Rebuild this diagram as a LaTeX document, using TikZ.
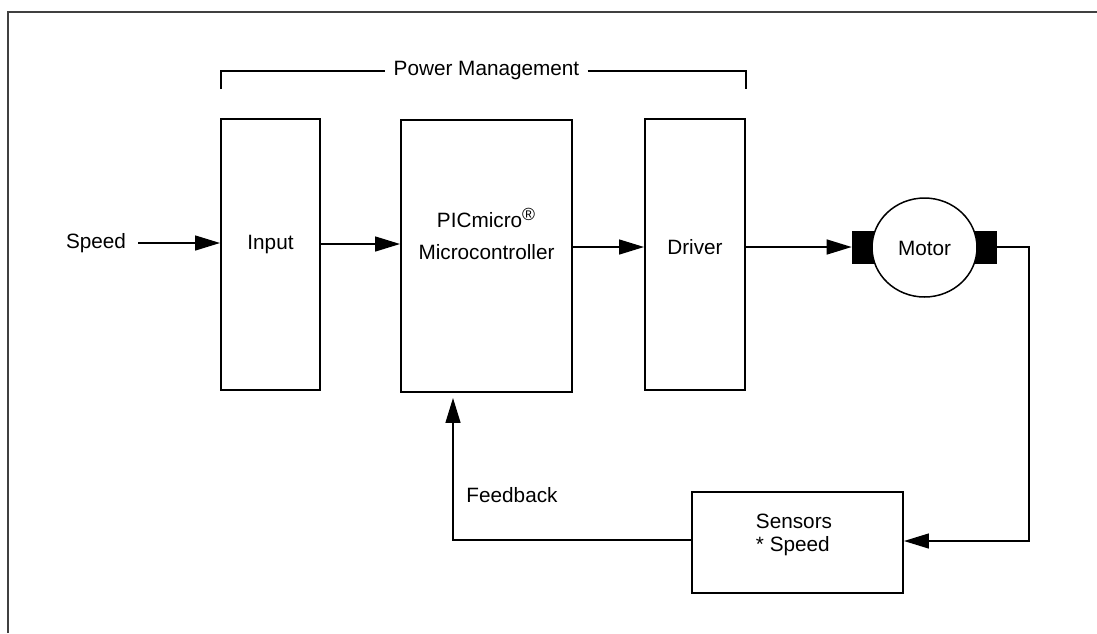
\documentclass[tikz,border=0pt]{standalone}
\usepackage{fontspec}
\setmainfont{Liberation Sans}
\usetikzlibrary{arrows.meta,shapes.geometric}
\begin{document}
\begin{tikzpicture}[x=0.02cm,y=-0.02cm,
    blockbox/.style={draw,line width=0.04cm,inner sep=0pt},
    padbox/.style={fill=black,draw=black,inner sep=0pt},
    sig/.style={line width=0.03cm,-{Triangle[length=0.5cm,width=0.3cm]}},
    lbl/.style={inner sep=0pt,font=\fontsize{11.8}{14}\selectfont}]
                    \useasboundingbox (0,0) rectangle (1097,633);
                    {\fontsize{11.8}{14}\selectfont

                    % Drawing frame
                    \draw [line width=0.04cm,black!75] (8,633) -- (8,12) -- (1097,12);%

                    % Drawing blocks
                    \node [blockbox,minimum width=1.98cm,minimum height=5.42cm] (input) at (270.5,254.5) {};%
                    \node [blockbox,minimum width=3.42cm,minimum height=5.44cm] (micro) at (486.5,256) {};%
                    \node [blockbox,minimum width=2.00cm,minimum height=5.42cm] (driver) at (695,254.5) {};%
                    \node [blockbox,minimum width=4.22cm,minimum height=2.02cm] (sensors) at (797.5,542.5) {};%

                    % Marking block texts
                    \node [lbl] (inputtext) at (270.5,245) {Input};%
                    \node [lbl,align=center,font=\fontsize{11.8}{18.2}\selectfont] (microtext) at (486.5,234) {PICmicro\textsuperscript{\fontsize{10}{10}\selectfont\textregistered}\\Microcontroller};%
                    \node [lbl] (drivertext) at (695,247) {Driver};%
                    \node [lbl,align=left,font=\fontsize{11.8}{13}\selectfont] (sensorstext) at (794,535) {Sensors\\* Speed};%

                    % Drawing motor
                    \node [padbox,minimum width=0.42cm,minimum height=0.64cm] (leftpad) at (862.5,247) {};%
                    \node [padbox,minimum width=0.46cm,minimum height=0.64cm] (rightpad) at (984.5,247) {};%
                    \node [ellipse,draw,fill=white,line width=0.03cm,inner sep=0pt,minimum width=2.1cm,minimum height=1.98cm] (motor) at (924.5,247.5) {};%
                    \node [lbl] (motortext) at (924.5,248) {Motor};%

                    % Marking Power Management
                    \node [lbl,inner sep=0.16cm] (power) at (486.5,71) {Power Management};%
                    \coordinate (brl) at (221,89);%
                    \coordinate (brr) at (746,89);%
                    \draw [line width=0.03cm] (brl) -- (brl |- power.west) -- (power.west);%
                    \draw [line width=0.03cm] (power.east) -- (brr |- power.east) -- (brr);%

                    % Drawing arrow Speed Input
                    \node [lbl,inner sep=0.24cm] (speed) at (96,243) {Speed};%
                    \draw [sig] (speed.east) -- (input.west |- speed.east);%

                    % Drawing arrow Input Micro
                    \coordinate (rowa) at (0,244);%
                    \draw [sig] (input.east |- rowa) -- (micro.west |- rowa);%

                    % Drawing arrow Micro Driver
                    \coordinate (rowb) at (0,247);%
                    \draw [sig] (micro.east |- rowb) -- (driver.west |- rowb);%

                    % Drawing arrow Driver Motor
                    \draw [sig] (driver.east |- leftpad.west) -- (leftpad.west);%

                    % Drawing arrow Motor Sensors
                    \coordinate (ret) at (1029,541);%
                    \draw [sig] (rightpad.east) -| (ret) -- (sensors.east |- ret);%

                    % Drawing arrow Sensors Micro
                    \coordinate (fbturn) at (453,540);%
                    \draw [sig,shorten >=0.1cm] (sensors.west |- fbturn) -- (fbturn) -- (micro.south -| fbturn);%

                    % Marking Feedback
                    \node [lbl] (feedback) at (512,495) {Feedback};%
                    }
\end{tikzpicture}
\end{document}
